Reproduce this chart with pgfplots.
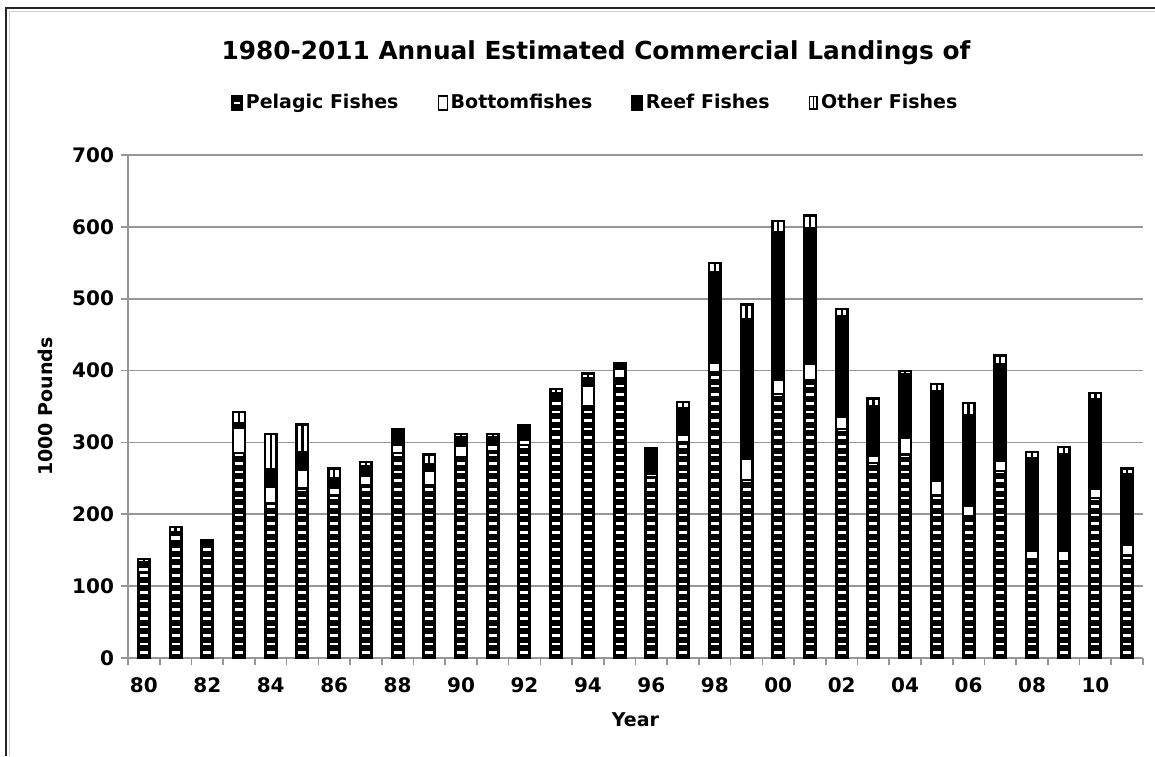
\documentclass[border=0pt]{standalone}
\usepackage{fontspec}
\setmainfont{DejaVu Sans}
\usepackage{pgfplots}
\usepackage{pgfplotstable}
\pgfplotsset{compat=1.18}
\definecolor{gridgray}{RGB}{150,150,150}

\pgfplotstableread{
x pel bot reef oth
0 120 7 6 5
1 162 10 3 7
2 155 4 5 0
3 285 35 7 15
4 216 22 25 49
5 236 26 25 38
6 226 11 13 14
7 241 13 13 6
8 285 12 22 0
9 241 19 10 13
10 279 16 12 5
11 288 9 10 5
12 296 8 19 1
13 351 7 10 6
14 351 28 11 6
15 390 13 7 0
16 252 5 35 0
17 300 10 38 8
18 398 13 126 13
19 248 29 194 21
20 367 20 206 15
21 387 23 188 18
22 319 17 139 11
23 271 11 69 10
24 283 23 89 4
25 226 21 124 10
26 198 14 126 17
27 260 14 135 12
28 138 11 129 9
29 135 14 134 11
30 223 12 125 9
31 143 14 99 8
}\data

\pgfplotsset{
  common/.style={
    at={(0pt,0pt)}, anchor=south west,
    scale only axis, width=507.5pt, height=251.5pt,
    xmin=-0.5, xmax=31.5, ymin=0, ymax=700,
  },
}

\begin{document}
\begin{tikzpicture}
\useasboundingbox (-64pt,-49pt) rectangle (513.5pt,329pt);
\draw[black!85, line width=1.1pt] (-61pt,-49pt) -- (-61pt,325pt) -- (513.5pt,325pt);
\draw[black!20, line width=0.6pt] (-59.3pt,-49pt) -- (-59.3pt,323.3pt) -- (513.5pt,323.3pt);
\begin{axis}[
  common,
  ybar stacked, bar width=5.8pt,
  xtick={0,2,...,30},
  xticklabels={80,82,84,86,88,90,92,94,96,98,00,02,04,06,08,10},
  minor xtick={-0.5,0.5,...,31.5},
  ytick={0,100,...,700},
  major x tick style={draw=none},
  tick align=outside, tick pos=left,
  major tick length=3.5pt, minor tick length=3.5pt,
  ymajorgrids, grid style={gridgray, line width=0.8pt},
  axis x line*=bottom, axis y line*=left,
  axis line style={gridgray, line width=0.8pt},
  tick style={gridgray, line width=0.8pt},
  /pgf/number format/assume math mode=true,
  ticklabel style={font=\bfseries\fontsize{10}{12}\selectfont, black},
  xticklabel style={yshift=-3pt},
  xlabel={Year},
  xlabel style={at={(axis description cs:0.5,-0.1233)}, anchor=center, font=\bfseries\fontsize{9.5}{11}\selectfont},
  ylabel={1000 Pounds},
  ylabel style={at={(axis description cs:-0.0818,0.5)}, anchor=center, font=\bfseries\fontsize{9.5}{11}\selectfont},
  title={1980-2011 Annual Estimated Commercial Landings of},
  title style={at={(axis description cs:0.461,1.179)}, anchor=center, font=\bfseries\fontsize{12.4}{15}\selectfont},
  legend style={at={(axis description cs:0.461,1.1034)}, anchor=center, draw=none,
    font=\bfseries\fontsize{9.5}{11}\selectfont, legend columns=4,
    /tikz/every even column/.append style={column sep=18pt},
    nodes={inner sep=1.5pt}},
]
\addplot[fill=black, draw=black, line width=1.2pt,
  legend image code/.code={\fill[black] (0pt,-3.5pt) rectangle (4.5pt,3.5pt);
    \draw[white, line width=0.9pt] (0.9pt,0pt) -- (3.6pt,0pt);}]
  table[x=x,y=pel]{\data};
\addplot[fill=white, draw=black, line width=1.2pt,
  legend image code/.code={\draw[black, fill=white, line width=0.6pt] (0pt,-3.5pt) rectangle (4.5pt,3.5pt);}]
  table[x=x,y=bot]{\data};
\addplot[fill=black, draw=black, line width=1.2pt,
  legend image code/.code={\fill[black] (0pt,-3.5pt) rectangle (4.5pt,3.5pt);}]
  table[x=x,y=reef]{\data};
\addplot[fill=white, draw=black, line width=1.2pt,
  legend image code/.code={\draw[black, fill=white, line width=0.9pt] (0.3pt,-3.2pt) rectangle (4.2pt,3.2pt);
    \draw[black, line width=0.9pt] (2.25pt,-3.2pt) -- (2.25pt,3.2pt);}]
  table[x=x,y=oth]{\data};
\legend{Pelagic Fishes,Bottomfishes,Reef Fishes,Other Fishes}
\end{axis}
\begin{axis}[common, hide axis]
\addplot[ycomb, white, line width=4pt, mark=none, dash pattern=on 1.3pt off 3pt, dash phase=2.3pt]
  table[x=x, y expr=\thisrow{pel}-1.5]{\data};
\addplot[draw=none, mark=none,
  error bars/.cd, y dir=both, y explicit,
  error bar style={draw=black, solid, line width=1.1pt}, error mark=none]
  table[x=x, y expr=\thisrow{pel}+\thisrow{bot}+\thisrow{reef}+0.5*\thisrow{oth},
        y error expr=0.5*\thisrow{oth}]{\data};
\end{axis}
\end{tikzpicture}
\end{document}
